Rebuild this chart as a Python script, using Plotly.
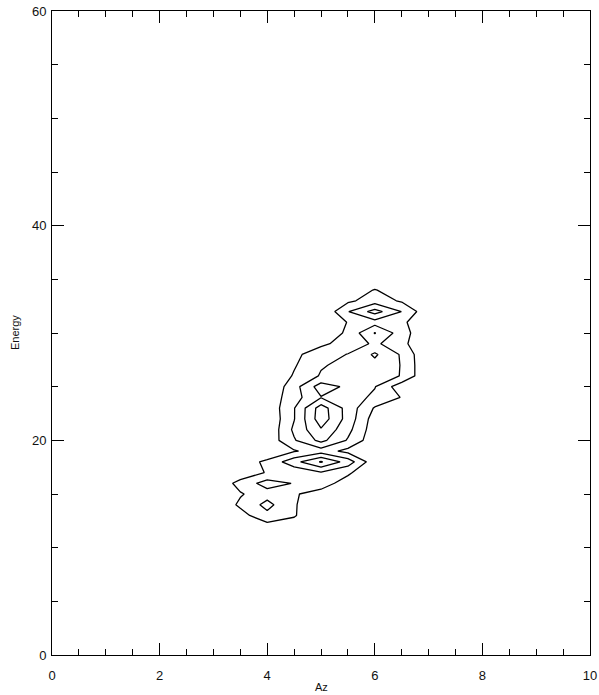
import plotly.graph_objects as go

# Grid of the binned counts (Az columns, Energy rows)
az = [3.0, 3.5, 4.0, 4.5, 5.0, 5.5, 6.0, 6.5, 7.0]
energy = list(range(11, 36))

z11 = [0, 0, 0, 0, 0, 0, 0, 0, 0]
z12 = [0, 0.1, 0.6, 0.5, 0, 0, 0, 0, 0]
z13 = [0, 0.6, 1.75, 1.1, 0, 0, 0, 0, 0]
z14 = [0, 1.2, 2.3, 1.1, 0.2, 0, 0, 0, 0]
z15 = [0, 0.9, 1.6, 1.1, 0.6, 0, 0, 0, 0]
z16 = [0, 1.4, 2.4, 1.95, 1.5, 0.5, 0, 0, 0]
z17 = [0, 0.2, 1.1, 1.3, 1.9, 1.2, 0, 0, 0]
z18 = [0, 0.5, 1.2, 2.65, 4.1, 2.55, 0.3, 0, 0]
z19 = [0, 0, 0.2, 0.9, 1.5, 0.7, 0.1, 0, 0]
z20 = [0, 0, 0.3, 1.9, 3.3, 1.9, 0.3, 0, 0]
z21 = [0, 0, 0.1, 2.2, 3.9, 2.3, 0.4, 0, 0]
z22 = [0, 0, 0.1, 1.95, 4.6, 2.6, 0.5, 0, 0]
z23 = [0, 0, 0.2, 1.95, 4.5, 2.6, 0.9, 0.2, 0]
z24 = [0, 0, 0.3, 1.6, 2.95, 2.5, 1.79, 0.95, 0]
z25 = [0, 0, 0, 1.6, 3.5, 2.79, 2.05, 0.36, 0]
z26 = [0, 0, 0, 1.1, 2.1, 2.5, 2.5, 1.95, 0]
z27 = [0, 0, 0, 0.9, 1.9, 2.3, 2.7, 1.95, 0]
z28 = [0, 0, 0, 0.83, 1.4, 2.05, 3.15, 1.87, 0]
z29 = [0, 0, 0, 0.3, 0.85, 1.3, 2.2, 1.3, 0]
z30 = [0, 0, 0, 0, 0, 1.25, 3.05, 1.5, 0]
z31 = [0, 0, 0, 0, 0, 1.05, 1.6, 1.25, 0]
z32 = [0, 0, 0, 0, 0, 1.95, 3.4, 1.98, 0.23]
z33 = [0, 0, 0, 0, 0, 0.79, 1.5, 0.875, 0]
z34 = [0, 0, 0, 0, 0, 0.4, 1.05, 0.5, 0]
z35 = [0, 0, 0, 0, 0, 0, 0.3, 0, 0]

counts = [z11, z12, z13, z14, z15, z16, z17, z18, z19, z20, z21, z22, z23,
          z24, z25, z26, z27, z28, z29, z30, z31, z32, z33, z34, z35]

levels = [1, 2, 3, 4]

x_ticks = [0, 2, 4, 6, 8, 10]
y_ticks = [0, 20, 40, 60]

fig = go.Figure()
fig.add_trace(go.Contour(
    x=az, y=energy, z=counts,
    contours=dict(start=levels[0], end=levels[-1], size=1, coloring="lines"),
    colorscale=[[0, "black"], [1, "black"]],
    line=dict(width=1.3, smoothing=0),
    showscale=False, hoverinfo="skip",
))

font = dict(family="Liberation Sans, Arial, sans-serif", size=13, color="#111111")
fig.update_layout(
    width=599, height=695,
    margin=dict(l=52, r=9, t=11, b=40, autoexpand=False),
    paper_bgcolor="white", plot_bgcolor="white",
    font=font,
    showlegend=False,
    xaxis=dict(
        range=[0, 10], tickvals=x_ticks, ticktext=[str(v) for v in x_ticks],
        ticks="inside", ticklen=12, tickwidth=1, tickcolor="black",
        minor=dict(dtick=0.5, ticks="inside", ticklen=6, tickwidth=1, tickcolor="black", showgrid=False),
        showline=True, linecolor="black", linewidth=1, mirror="ticks",
        showgrid=False, zeroline=False, automargin=False,
        ticklabelstandoff=8,
    ),
    yaxis=dict(
        range=[0, 60], tickvals=y_ticks, ticktext=[str(v) for v in y_ticks],
        ticks="inside", ticklen=12, tickwidth=1, tickcolor="black",
        minor=dict(dtick=5, ticks="inside", ticklen=6, tickwidth=1, tickcolor="black", showgrid=False),
        showline=True, linecolor="black", linewidth=1, mirror="ticks",
        showgrid=False, zeroline=False, automargin=False,
        ticklabelstandoff=2,
    ),
    annotations=[
        dict(text="Az", xref="paper", yref="paper", x=0.5, y=0, yshift=-32,
             showarrow=False, font=dict(size=11), xanchor="center", yanchor="middle"),
        dict(text="Energy", xref="paper", yref="paper", x=0, y=0.5, xshift=-37,
             showarrow=False, font=dict(size=11), textangle=-90,
             xanchor="center", yanchor="middle"),
    ],
)

fig.write_html("out.html")
